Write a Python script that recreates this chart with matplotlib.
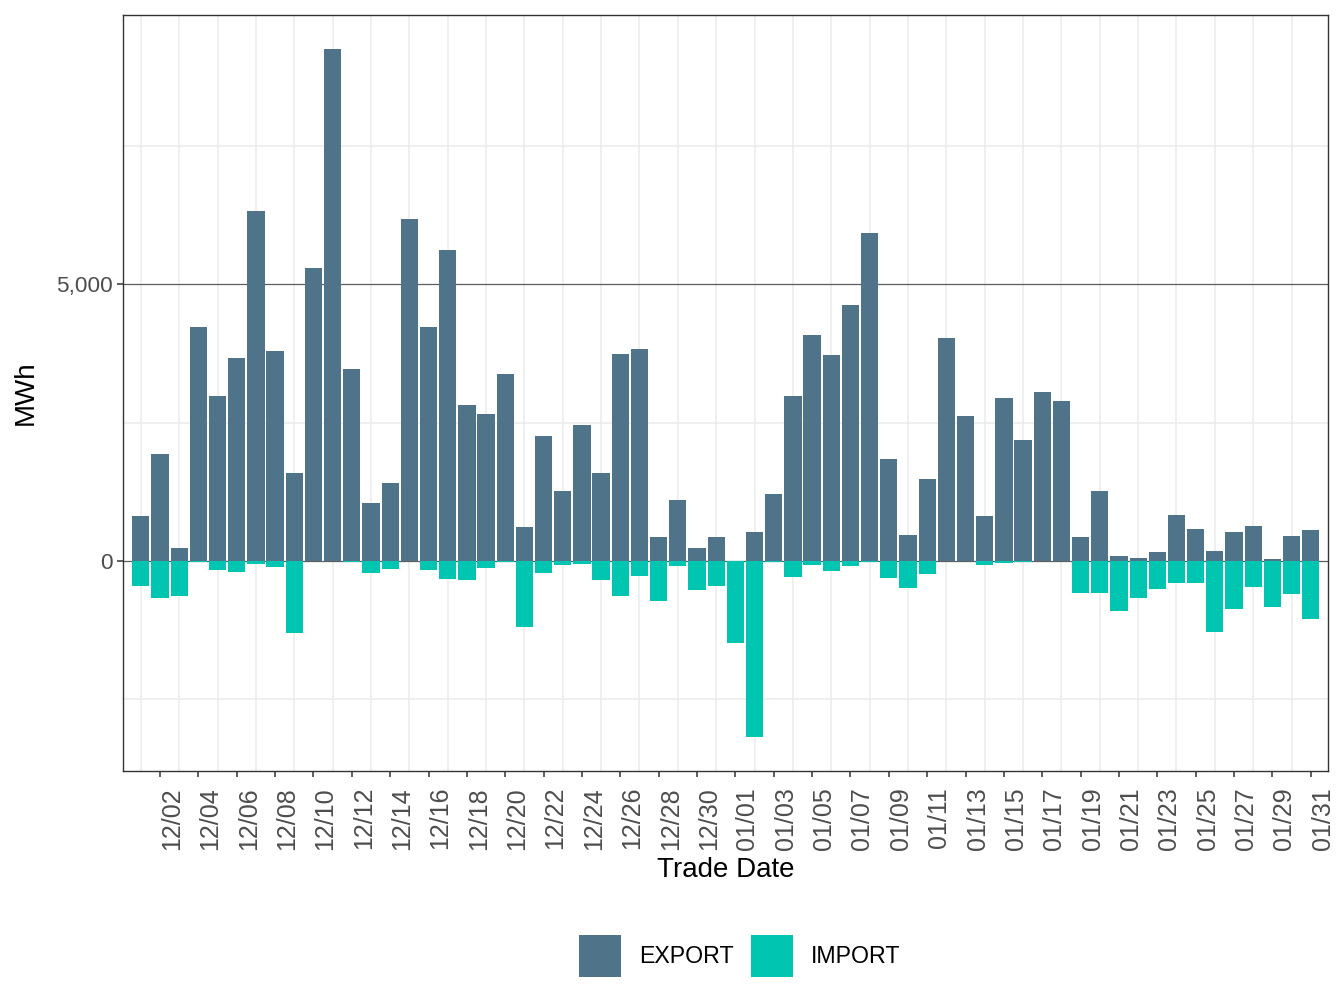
import matplotlib
matplotlib.use('Agg')
import matplotlib.pyplot as plt
import matplotlib.dates as mdates
from matplotlib.patches import Patch
from matplotlib.ticker import FuncFormatter, FixedLocator
import pandas as pd
import numpy as np

plt.rcParams['font.family'] = ['Liberation Sans', 'DejaVu Sans']

# daily trade volumes, MWh (imports stored as magnitudes)
trade_dates = pd.date_range('2023-12-01', '2024-01-31', freq='D')
export_mwh = [811, 1929, 224, 4225, 2980, 3667, 6333, 3791, 1589, 5290,
              9255, 3468, 1051, 1407, 6184, 4238, 5629, 2815, 2657, 3377,
              611, 2256, 1263, 2456, 1586, 3737, 3826, 425, 1098, 228,
              425,
              0, 520, 1206, 2976, 4080, 3718, 4626, 5926, 1840, 463,
              1480, 4028, 2620, 817, 2945, 2188, 3053, 2891, 421, 1268,
              78, 42, 150, 835, 565, 168, 511, 619, 24, 439,
              547]
import_mwh = [464, 679, 646, 33, 174, 199, 66, 108, 1316, 0,
              0, 33, 232, 157, 0, 174, 339, 356, 141, 17,
              1192, 218, 76, 63, 349, 641, 279, 730, 95, 533,
              457,
              1491, 3185, 19, 298, 76, 190, 95, 15, 311, 495,
              235, 12, 0, 84, 48, 30, 0, 12, 589, 589,
              914, 679, 517, 409, 409, 1292, 877, 481, 841, 607,
              1058]
series_names = ['EXPORT', 'IMPORT']
series_colors = ['#4F7489', '#00C5B0']

fig = plt.figure(figsize=(13.44, 10.08), dpi=100)
ax = fig.add_axes([123 / 1344, 1 - 771 / 1008, 1205 / 1344, 756 / 1008])

x = mdates.date2num(trade_dates)
ax.bar(x, export_mwh, width=0.9, color=series_colors[0], zorder=2)
ax.bar(x, -np.array(import_mwh), width=0.9, color=series_colors[1], zorder=2)

# y range with ggplot-like 5% expansion
lo = -max(import_mwh)
hi = max(export_mwh)
pad = 0.05 * (hi - lo)
ax.set_ylim(lo - pad, hi + pad)
ax.set_xlim(x[0] - 0.93, x[-1] + 0.9)

# grid: light lines at odd days and half steps, darker at labelled y breaks
for xv in x[::2]:
    ax.axvline(xv, color='#EBEBEB', lw=1.1, zorder=0)
for yv in [-2500, 2500, 7500]:
    ax.axhline(yv, color='#EBEBEB', lw=1.1, zorder=0)
for yv in [0, 5000]:
    ax.axhline(yv, color='#5E5E5E', lw=0.9, zorder=0.5)

ax.yaxis.set_major_locator(FixedLocator([0, 5000]))
ax.yaxis.set_major_formatter(FuncFormatter(lambda v, p: f'{v:,.0f}'))
ax.xaxis.set_major_locator(FixedLocator(x[1::2]))
ax.xaxis.set_major_formatter(mdates.DateFormatter('%m/%d'))

ax.tick_params(axis='both', which='major', length=4.5, width=1.1, color='#333333',
               labelcolor='#4D4D4D', pad=3)
ax.tick_params(axis='y', labelsize=16.2)
ax.tick_params(axis='x', labelsize=18, pad=7)
plt.setp(ax.get_xticklabels(), rotation=90, ha='left', va='top')

for s in ax.spines.values():
    s.set_color('#333333')
    s.set_linewidth(1.0)

ax.set_xlabel('Trade Date', fontsize=20, labelpad=5)
ax.set_ylabel('MWh', fontsize=20, labelpad=12)

handles = [Patch(facecolor=c, edgecolor='none', label=n)
           for n, c in zip(series_names, series_colors)]
fig.legend(handles=handles, loc='center left',
           bbox_to_anchor=(579 / 1344, 1 - 956 / 1008), ncol=2, frameon=False,
           fontsize=16.7, handlelength=1.81, handleheight=2.41,
           handletextpad=0.78, columnspacing=0.73, borderpad=0, borderaxespad=0)

fig.savefig('out.png', dpi=100)
